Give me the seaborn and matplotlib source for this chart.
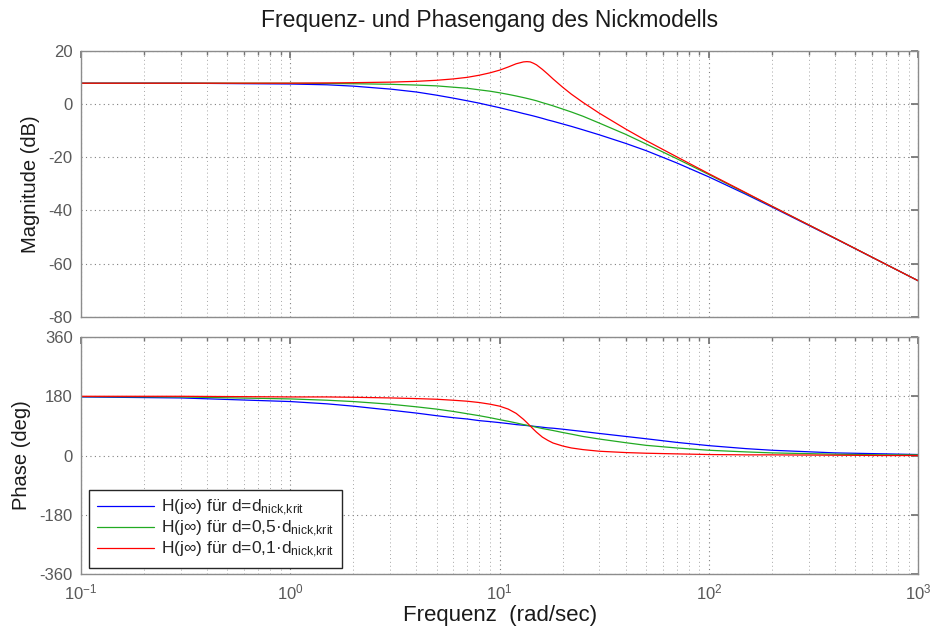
import numpy as np
import pandas as pd
import matplotlib
matplotlib.use("Agg")
import matplotlib.pyplot as plt
import seaborn as sns

# Frequency points (rad/sec)
freq = [0.1, 0.3, 1, 1.5, 2, 3, 4, 5, 6, 7, 8, 9, 10, 11, 12, 13, 13.5, 14, 14.5, 15,
        16, 17, 18, 20, 22, 25, 30, 40, 50, 70, 100, 150, 200, 400, 700, 1000]

# Magnitude in dB for the three damping settings
mag_d_krit = [7.8, 7.8, 7.5, 7.2, 6.7, 5.6, 4.5, 3.3, 2.2, 1.2, 0.3, -0.6, -1.4, -2.2, -2.9, -3.6,
              -3.9, -4.2, -4.5, -4.8, -5.4, -6.0, -6.5, -7.5, -8.4, -9.7, -11.6, -14.8, -17.5,
              -22.1, -27.4, -33.9, -38.7, -50.5, -60.2, -66.4]
mag_d_05 = [7.8, 7.8, 7.8, 7.7, 7.6, 7.4, 7.1, 6.8, 6.3, 5.9, 5.3, 4.8, 4.2, 3.6, 3.0, 2.4,
            2.1, 1.8, 1.5, 1.2, 0.5, -0.1, -0.7, -1.9, -3.0, -4.6, -7.2, -11.4, -15.0,
            -20.5, -26.5, -33.5, -38.4, -50.4, -60.2, -66.4]
mag_d_01 = [7.8, 7.8, 7.8, 7.9, 8.0, 8.2, 8.5, 8.9, 9.4, 10.0, 10.8, 11.7, 12.7, 13.9, 15.1, 15.8,
            15.9, 15.8, 15.3, 14.7, 13.0, 11.2, 9.4, 6.3, 3.7, 0.6, -3.5, -9.4, -13.7,
            -19.8, -26.2, -33.3, -38.4, -50.4, -60.2, -66.4]

# Phase in degrees
phase_d_krit = [178, 175, 164, 157, 150, 138, 129, 121, 115, 111, 106, 103, 100, 97, 94, 92,
                91, 90, 89, 88, 86, 84, 83, 80, 77, 73, 67, 58, 51, 40, 30, 21, 16, 8, 5, 3]
phase_d_05 = [179, 178, 172, 168, 164, 156, 148, 141, 134, 127, 121, 115, 109, 104, 99, 94,
              92, 90, 88, 86, 82, 79, 76, 70, 65, 58, 50, 39, 31, 23, 16, 11, 8, 4, 2, 2]
phase_d_01 = [180, 180, 178, 178, 177, 175, 173, 171, 168, 165, 161, 156, 150, 141, 128, 110,
              100, 90, 80, 71, 56, 46, 38, 29, 23, 18, 13, 9, 7, 5, 3, 2, 2, 1, 0, 0]

# Decade tick labels on the frequency axis
xticks = [0.1, 1, 10, 100, 1000]
xticklabels = ["10$^{-1}$", "10$^{0}$", "10$^{1}$", "10$^{2}$", "10$^{3}$"]

labels = [
    r"H(j∞) für d=d$_\mathregular{nick{,}krit}$",
    r"H(j∞) für d=0,5·d$_\mathregular{nick{,}krit}$",
    r"H(j∞) für d=0,1·d$_\mathregular{nick{,}krit}$",
]
colors = ["#0000ff", "#22aa22", "#ff0000"]

n = len(freq)
mag_df = pd.DataFrame({"freq": freq * 3,
                       "value": mag_d_krit + mag_d_05 + mag_d_01,
                       "series": [labels[0]] * n + [labels[1]] * n + [labels[2]] * n})
ph_df = pd.DataFrame({"freq": freq * 3,
                      "value": phase_d_krit + phase_d_05 + phase_d_01,
                      "series": mag_df["series"]})

sns.set_theme(style="white")
plt.rcParams["font.family"] = ["Liberation Sans", "DejaVu Sans"]
plt.rcParams["mathtext.fontset"] = "custom"
plt.rcParams["mathtext.rm"] = "Liberation Sans"
plt.rcParams["mathtext.it"] = "Liberation Sans"
plt.rcParams["mathtext.default"] = "regular"
plt.rcParams["axes.unicode_minus"] = False

fig = plt.figure(figsize=(9.35, 6.3), dpi=100)
ax_mag = fig.add_axes([0.0866, 0.4968, 0.8955, 0.4227])
ax_ph = fig.add_axes([0.0866, 0.0889, 0.8955, 0.3761])

palette = dict(zip(labels, colors))
for ax, df in ((ax_mag, mag_df), (ax_ph, ph_df)):
    sns.lineplot(data=df, x="freq", y="value", hue="series", palette=palette,
                 hue_order=labels, linewidth=0.9, ax=ax, legend=(ax is ax_ph),
                 estimator=None, sort=False)
    ax.set_xscale("log")
    ax.set_xlim(0.1, 1000)
    ax.set_xticks(xticks)
    ax.set_xticklabels(xticklabels)
    ax.grid(True, which="major", axis="both", color="0.5", linestyle=(0, (1, 3)), linewidth=0.8)
    ax.grid(True, which="minor", axis="x", color="0.65", linestyle=(0, (1, 3)), linewidth=0.7)
    ax.tick_params(which="both", direction="in", top=True, right=True, colors="0.45",
                   labelcolor="0.35", labelsize=12)
    ax.tick_params(which="major", length=5, pad=6)
    ax.tick_params(which="minor", length=3)
    for s in ax.spines.values():
        s.set_color("0.55")
        s.set_linewidth(1.0)

ax_mag.set_ylim(-80, 20)
ax_mag.set_yticks([-80, -60, -40, -20, 0, 20])
ax_mag.tick_params(axis="x", labelbottom=False)
ax_mag.set_xlabel("")
ax_mag.set_ylabel("Magnitude (dB)", fontsize=14.5, color="0.1", labelpad=6)

ax_ph.set_ylim(-360, 360)
ax_ph.set_yticks([-360, -180, 0, 180, 360])
ax_ph.set_xlabel("Frequenz  (rad/sec)", fontsize=16, color="0.1", labelpad=2)
ax_ph.set_ylabel("Phase (deg)", fontsize=14.5, color="0.1", labelpad=6)

fig.text(0.524, 0.968, "Frequenz- und Phasengang des Nickmodells", fontsize=16.5,
         ha="center", va="center", color="0.1")
fig.align_ylabels([ax_mag, ax_ph])

leg = ax_ph.legend(loc="lower left", bbox_to_anchor=(0.0096, 0.025), borderaxespad=0,
                   fontsize=12.5, handlelength=3.3, handletextpad=0.4, frameon=True,
                   fancybox=False, framealpha=1, edgecolor="0.15", labelspacing=0.05,
                   borderpad=0.45, title=None)
leg.get_frame().set_linewidth(1.0)

fig.savefig("out.png", dpi=100)
